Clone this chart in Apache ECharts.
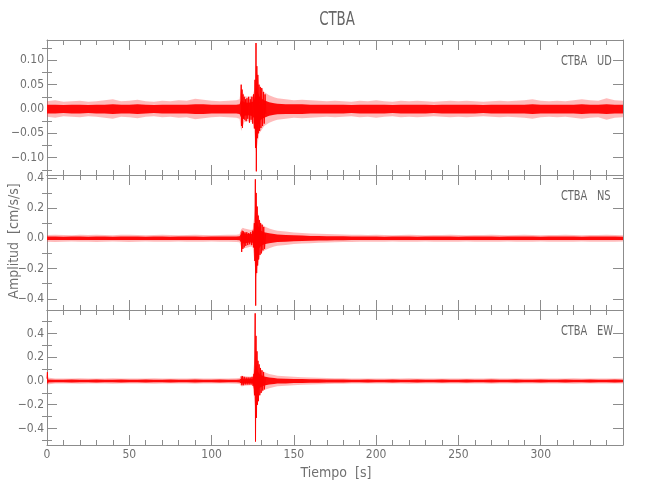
<!DOCTYPE html>
<html>
<head>
<meta charset="utf-8">
<script src="https://cdn.jsdelivr.net/npm/echarts@6/dist/echarts.min.js"></script>
<style>html,body{margin:0;padding:0;background:#fff}#c{width:650px;height:500px}</style>
</head>
<body>
<div id="c"></div>
<script>
// ---------- DATA ----------
// time knots (s) of the envelope readings
const envTime = [0,5,10,15,20,25,30,35,40,45,50,55,60,65,70,75,80,85,90,95,100,105,110,115,
  117,118,119,120,122,124,125,126,127,128,129,130,132,135,138,
  140,145,150,155,160,165,170,175,180,185,190,195,200,205,210,215,220,225,230,235,240,245,250,
  255,260,265,270,275,280,285,290,295,300,305,310,315,320,325,330,335,340,345,350];

// UD component: outer (sparse spikes) and core (dense) half-widths, cm/s/s
const udOuter = [0.016,0.018,0.015,0.016,0.017,0.015,0.016,0.018,0.020,0.016,
  0.017,0.019,0.016,0.015,0.017,0.016,0.018,0.017,0.021,0.019,
  0.017,0.016,0.017,0.018,
  0.020,0.045,0.035,0.026,0.025,0.026,0.028,0.040,0.090,0.070,0.050,0.045,0.035,0.028,0.024,
  0.022,0.020,0.018,0.019,0.018,0.017,0.016,0.017,0.016,0.015,
  0.017,0.016,0.018,0.016,0.015,0.017,0.016,0.017,0.016,0.015,
  0.016,0.017,0.016,0.017,0.016,0.015,0.016,0.017,0.016,0.017,
  0.018,0.020,0.017,0.016,0.017,0.016,0.018,0.020,0.018,0.017,
  0.022,0.018,0.017];
const udCore = [0.009,0.009,0.008,0.009,0.009,0.008,0.009,0.009,0.010,0.009,
  0.009,0.010,0.009,0.008,0.009,0.009,0.009,0.009,0.010,0.010,
  0.009,0.009,0.009,0.009,
  0.010,0.018,0.016,0.014,0.013,0.014,0.015,0.020,0.045,0.035,0.026,0.022,0.018,0.014,0.012,
  0.011,0.010,0.010,0.010,0.009,0.009,0.009,0.009,0.009,0.008,
  0.009,0.009,0.009,0.009,0.008,0.009,0.009,0.009,0.009,0.008,
  0.009,0.009,0.009,0.009,0.009,0.008,0.009,0.009,0.009,0.009,
  0.009,0.010,0.009,0.009,0.009,0.009,0.009,0.010,0.009,0.009,
  0.010,0.009,0.009];
const udSpikes = [[117.8,0.01],[118.0,0.05],[118.2,-0.035],[118.5,0.04],[118.8,-0.039],[119.1,0.03],
  [119.4,-0.02],[119.8,0.025],[120.2,-0.022],[120.6,0.02],[121.0,-0.025],[121.5,0.022],[122.0,-0.02],
  [122.5,0.025],[123.0,-0.028],[123.5,0.02],[124.0,-0.022],[124.5,0.025],[125.0,-0.03],[125.5,0.03],
  [126.0,-0.04],[126.4,0.06],[126.7,-0.08],[127.0,0.1355],[127.2,-0.128],[127.5,0.088],[127.8,-0.06],
  [128.1,0.07],[128.4,-0.05],[128.8,0.05],[129.2,-0.045],[129.6,0.045],[130.0,-0.039],[130.5,0.043],
  [131.0,-0.035],[131.5,0.035],[132.0,-0.03],[132.5,0.03],[133.0,-0.01]];

// NS component
const nsOuter = [0.022,0.024,0.022,0.021,0.023,0.022,0.024,0.022,0.021,0.023,
  0.024,0.022,0.021,0.022,0.023,0.022,0.021,0.022,0.023,0.022,
  0.021,0.022,0.023,0.024,
  0.026,0.060,0.070,0.065,0.060,0.055,0.060,0.150,0.260,0.180,0.130,0.100,0.080,0.065,0.055,
  0.050,0.045,0.038,0.035,0.032,0.030,0.028,0.026,0.025,0.024,
  0.023,0.022,0.023,0.022,0.021,0.022,0.023,0.022,0.021,0.022,
  0.022,0.023,0.022,0.021,0.022,0.022,0.023,0.022,0.021,0.022,
  0.023,0.022,0.021,0.022,0.022,0.023,0.022,0.021,0.022,0.022,
  0.023,0.022,0.021];
const nsCore = [0.012,0.012,0.011,0.012,0.012,0.011,0.012,0.012,0.011,0.012,
  0.012,0.012,0.011,0.012,0.012,0.011,0.012,0.012,0.012,0.011,
  0.012,0.012,0.012,0.012,
  0.013,0.030,0.035,0.032,0.030,0.028,0.030,0.075,0.130,0.090,0.065,0.050,0.040,0.033,0.028,
  0.025,0.022,0.020,0.018,0.016,0.015,0.014,0.013,0.013,0.012,
  0.012,0.012,0.012,0.011,0.012,0.012,0.012,0.011,0.012,0.012,
  0.012,0.012,0.011,0.012,0.012,0.012,0.012,0.011,0.012,0.012,
  0.012,0.012,0.011,0.012,0.012,0.012,0.012,0.011,0.012,0.012,
  0.012,0.012,0.011];
const nsSpikes = [[118.0,0.04],[118.3,-0.09],[118.6,0.05],[119.0,-0.07],[119.4,0.045],[119.8,-0.06],
  [120.3,0.04],[120.8,-0.05],[121.4,0.04],[122.0,-0.045],[122.6,0.035],[123.2,-0.04],[123.8,0.04],
  [124.4,-0.045],[125.0,0.05],[125.5,-0.06],[126.0,0.1],[126.3,-0.15],[126.6,0.39],[126.8,-0.445],
  [127.1,0.3],[127.4,-0.23],[127.7,0.21],[128.0,-0.18],[128.3,0.15],[128.6,-0.14],[129.0,0.12],
  [129.4,-0.11],[129.8,0.1],[130.2,-0.1],[130.7,0.09],[131.2,-0.08],[131.7,0.075],[132.2,-0.07],
  [132.8,0.03]];

// EW component
const ewOuter = [0.030,0.022,0.021,0.022,0.023,0.022,0.021,0.022,0.023,0.022,
  0.021,0.022,0.022,0.023,0.022,0.021,0.022,0.022,0.023,0.022,
  0.021,0.022,0.022,0.023,
  0.025,0.045,0.045,0.040,0.038,0.035,0.040,0.170,0.280,0.170,0.120,0.100,0.075,0.060,0.050,
  0.045,0.040,0.035,0.032,0.030,0.028,0.026,0.024,0.023,0.022,
  0.022,0.021,0.022,0.022,0.021,0.022,0.023,0.022,0.021,0.022,
  0.022,0.021,0.022,0.022,0.021,0.022,0.023,0.022,0.021,0.022,
  0.022,0.021,0.022,0.022,0.021,0.022,0.023,0.022,0.021,0.022,
  0.022,0.021,0.022];
const ewCore = [0.013,0.011,0.011,0.012,0.011,0.011,0.012,0.011,0.011,0.012,
  0.011,0.011,0.012,0.011,0.011,0.012,0.011,0.011,0.012,0.011,
  0.011,0.012,0.011,0.011,
  0.012,0.022,0.022,0.020,0.019,0.018,0.020,0.080,0.140,0.085,0.060,0.050,0.038,0.030,0.025,
  0.022,0.020,0.017,0.016,0.015,0.014,0.013,0.012,0.012,0.011,
  0.011,0.012,0.011,0.011,0.012,0.011,0.011,0.012,0.011,0.011,
  0.012,0.011,0.011,0.012,0.011,0.011,0.012,0.011,0.011,0.012,
  0.011,0.011,0.012,0.011,0.011,0.012,0.011,0.011,0.012,0.011,
  0.011,0.012,0.011];
const ewSpikes = [[0.0,0.02],[0.25,0.075],[0.5,-0.02],[0.8,null],
  [118.0,0.04],[118.4,-0.035],[118.8,0.04],[119.3,-0.035],[119.8,0.035],[120.4,-0.03],[121.0,0.03],
  [121.6,-0.03],[122.2,0.03],[122.8,-0.03],[123.4,0.03],[124.0,-0.03],[124.6,0.035],[125.2,-0.04],
  [125.8,0.06],[126.1,-0.12],[126.5,0.57],[126.7,-0.51],[127.0,0.38],[127.3,-0.31],[127.6,0.25],
  [127.9,-0.2],[128.2,0.17],[128.5,-0.17],[128.9,0.14],[129.3,-0.12],[129.7,0.11],[130.1,-0.1],
  [130.6,0.09],[131.1,-0.08],[131.6,0.075],[132.1,-0.07],[132.7,0.03]];

// axis ranges and tick values
const xRange = [0, 350];
const udRange = [-0.1355, 0.1417];
const nsRange = [-0.474, 0.4185];
const ewRange = [-0.539, 0.598];
const udTicks = [-0.10,-0.05,0,0.05,0.10];
const udMinor = [-0.125,-0.075,-0.025,0.025,0.075,0.125];
const nsTicks = [-0.4,-0.2,0,0.2,0.4];
const nsMinor = [-0.3,-0.1,0.1,0.3];
const ewTicks = [-0.4,-0.2,0,0.2,0.4];
const ewMinor = [-0.5,-0.3,-0.1,0.1,0.3,0.5];
const componentNames = ['UD','NS','EW'];
const station = 'CTBA';

// ---------- CHART ----------
const FONT = "'Liberation Sans Narrow','DejaVu Sans Condensed','Liberation Sans',sans-serif";
const AX = '#8c8c8c', TX = '#707070';
const panels = [
  {outer:udOuter, core:udCore, spikes:udSpikes, range:udRange, ticks:udTicks, minor:udMinor, dec:2},
  {outer:nsOuter, core:nsCore, spikes:nsSpikes, range:nsRange, ticks:nsTicks, minor:nsMinor, dec:1},
  {outer:ewOuter, core:ewCore, spikes:ewSpikes, range:ewRange, ticks:ewTicks, minor:ewMinor, dec:1}
];
const PT = 40, PH = 135, LEFT = 47, RIGHT = 27;
const grids = [], xAxes = [], yAxes = [], series = [], graphics = [];
function fmt(v, d){ if (Math.abs(v) < 1e-9) return (0).toFixed(d); return (v < 0 ? '\u2212' : '') + Math.abs(v).toFixed(d); }

function bandSeries(xi, yi, amp, color, z){
  return {
    type:'custom', coordinateSystem:'cartesian2d', xAxisIndex:xi, yAxisIndex:yi, z:z, silent:true,
    data:[[envTime[0], 0]],
    renderItem: function(params, api){
      const up = [], dn = [];
      for (let k = 0; k < envTime.length; k++) {
        up.push(api.coord([envTime[k], amp[k]]));
        dn.push(api.coord([envTime[k], -amp[k]]));
      }
      return {type:'polygon', shape:{points: up.concat(dn.reverse())}, style:{fill:color, stroke:null}};
    }
  };
}

panels.forEach(function(p, i){
  grids.push({left:LEFT, right:RIGHT, top:PT + PH*i, height:PH});
  const xb = {
    type:'value', gridIndex:i, min:xRange[0], max:xRange[1], interval:50,
    splitLine:{show:false},
    axisLine:{show:true, onZero:false, lineStyle:{color:AX, width:1}},
    axisTick:{show:true, inside:true, length:10, lineStyle:{color:AX, width:1}},
    minorTick:{show:true, splitNumber:5, length:5, lineStyle:{color:AX, width:1}},
    minorSplitLine:{show:false}
  };
  xAxes.push(Object.assign({}, xb, {position:'bottom',
    axisLabel:{show:i === 2, color:TX, fontSize:12, fontFamily:FONT, margin:4,
      formatter:function(v){ return v >= xRange[1] ? '' : String(v); }}}));
  xAxes.push(Object.assign({}, xb, {position:'top', axisLabel:{show:false}}));

  const yb = {
    type:'value', gridIndex:i, min:p.range[0], max:p.range[1],
    splitLine:{show:false}, axisLine:{show:true, onZero:false, lineStyle:{color:AX, width:1}}
  };
  ['left','right'].forEach(function(side){
    yAxes.push(Object.assign({}, yb, {position:side,
      axisTick:{show:true, inside:true, length:10, customValues:p.ticks, lineStyle:{color:AX}},
      axisLabel:{show:side === 'left', customValues:p.ticks, color:TX, fontSize:12, fontFamily:FONT, margin:3,
        formatter:function(v){ return fmt(v, p.dec); }}}));
    yAxes.push(Object.assign({}, yb, {position:side,
      axisLine:{show:false},
      axisTick:{show:true, inside:true, length:5, customValues:p.minor, lineStyle:{color:AX}},
      axisLabel:{show:false}}));
  });

  const xi = 2*i, yi = 4*i;
  series.push(bandSeries(xi, yi, p.outer, 'rgba(255,40,40,0.32)', 1));
  series.push(bandSeries(xi, yi, p.core, '#ff0a0a', 2));
  series.push({type:'line', xAxisIndex:xi, yAxisIndex:yi, data:p.spikes, symbol:'none',
    connectNulls:false, silent:true, z:3, lineStyle:{color:'#ff0000', width:1}});

  const ty = PT + PH*i + 21;
  graphics.push({type:'text', x:561, y:ty, scaleX:0.78,
    style:{text:station, fontSize:14, fontFamily:FONT, fill:'#666', align:'left', verticalAlign:'middle'}});
  graphics.push({type:'text', x:597, y:ty, scaleX:0.78,
    style:{text:componentNames[i], fontSize:14, fontFamily:FONT, fill:'#666', align:'left', verticalAlign:'middle'}});
});

graphics.push({type:'text', x:337, y:20, scaleX:0.78,
  style:{text:station, fontSize:19, fontFamily:FONT, fill:'#666', align:'center', verticalAlign:'middle'}});
graphics.push({type:'text', x:336, y:473,
  style:{text:'Tiempo  [s]', fontSize:14, fontFamily:FONT, fill:TX, align:'center', verticalAlign:'middle'}});
graphics.push({type:'text', x:14, y:241, rotation:Math.PI/2,
  style:{text:'Amplitud  [cm/s/s]', fontSize:14, fontFamily:FONT, fill:TX, align:'center', verticalAlign:'middle'}});

const chart = echarts.init(document.getElementById('c'), null, {renderer:'canvas'});
chart.setOption({
  animation:false,
  backgroundColor:'#ffffff',
  grid:grids, xAxis:xAxes, yAxis:yAxes, series:series, graphic:graphics
});
</script>
</body>
</html>
